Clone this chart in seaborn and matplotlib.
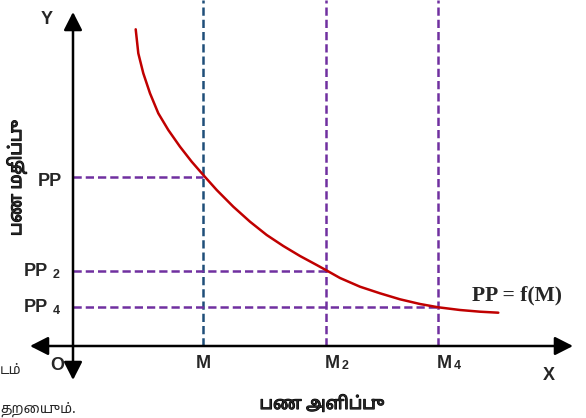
import matplotlib
matplotlib.use('Agg')
import matplotlib.pyplot as plt
import matplotlib.patheffects as pe
import seaborn as sns
import pandas as pd

# curve points (origin O at the axes crossing)
money_supply = [62.7, 65.3, 70.3, 77, 85.3, 95.3, 107, 118.7, 130.3, 143.7, 160.3, 177, 193.7,
                210.3, 227, 243.7, 253.7, 267, 287, 307, 327, 347, 365.3, 387, 407, 425.3]
money_value = [316.7, 292.7, 272.7, 252.7, 232.7, 216, 199.3, 184.3, 171, 156, 139.3, 124.3, 111,
               100, 90, 81, 75.5, 68, 59.3, 52.7, 46.7, 42, 38.7, 36, 34.3, 33.3]

# guide levels
m_levels = [130, 253, 365]
m_labels = ['M', 'M', 'M']
m_subs = ['', '2', '4']
pp_levels = [169, 75, 39]
pp_subs = ['', '2', '4']

curve = pd.DataFrame({'M': money_supply, 'PP': money_value})

sns.set_style('white')
plt.rcParams['font.family'] = ['Noto Sans Tamil', 'Lohit Tamil', 'Liberation Sans', 'DejaVu Sans']
plt.rcParams['axes.unicode_minus'] = False

fig = plt.figure(figsize=(5.86, 4.18), dpi=100)
ax = fig.add_axes([0, 0, 1, 1])

purple = '#7030A0'
dash = (0, (3.3, 1.6))

# vertical guides
ax.vlines(m_levels[0], 0, 346, color='#1F4E79', lw=1.8, linestyle=dash)
ax.vlines(m_levels[1:], 0, 346, color=purple, lw=1.8, linestyle=dash)
# horizontal guides
for m, p in zip(m_levels, pp_levels):
    ax.hlines(p, 0, m, color=purple, lw=1.8, linestyle=dash)

# PP = f(M) curve
sns.lineplot(data=curve, x='M', y='PP', ax=ax, color='#C00000', lw=1.8, sort=False)
ax.axis('off')
ax.set_xlim(-73, 513)
ax.set_ylim(-72, 346)

# axes with arrows
arrow = dict(arrowstyle='<|-|>,head_length=0.55,head_width=0.28', lw=1.8,
             color='black', shrinkA=0, shrinkB=0, mutation_scale=20)
ax.annotate('', xy=(0, 334), xytext=(0, -34), arrowprops=arrow)
ax.annotate('', xy=(500, 0), xytext=(-43, 0), arrowprops=arrow)

fam = ['Liberation Sans', 'DejaVu Sans']
lab = dict(fontsize=13, fontweight='bold', family=fam)
sub = dict(fontsize=9, fontweight='bold', family=fam)
ax.text(-26, 326, 'Y', ha='center', va='center', **lab)
ax.text(476, -29, 'X', ha='center', va='center', **lab)
ax.text(-16, -19, 'O', ha='center', va='center', **lab)

for m, name, s in zip(m_levels, m_labels, m_subs):
    if s:
        ax.text(m - 1, -18, name, ha='left', va='center', **lab)
        ax.text(m + 16, -20, s, ha='left', va='center', **sub)
    else:
        ax.text(m, -18, name, ha='center', va='center', **lab)

ax.text(-23, 165, 'PP', ha='center', va='center', **lab)
for p, s in zip(pp_levels[1:], pp_subs[1:]):
    ax.text(-37, p, 'PP', ha='center', va='center', **lab)
    ax.text(-17, p - 4, s, ha='center', va='center', **sub)

ax.text(444, 51, 'PP = f(M)', ha='center', va='center', fontsize=15.5, fontweight='bold',
        family=['Liberation Serif', 'DejaVu Serif'])

# axis titles (Tamil), stroked a little to look bold
bold = [pe.withStroke(linewidth=0.8, foreground='black')]
ax.text(-56, 168, 'பண மதிப்பு', rotation=90, ha='center', va='center', fontsize=12.5,
        fontweight='bold', path_effects=bold)
ax.text(249, -58, 'பண அளிப்பு', ha='center', va='center', fontsize=12.5,
        fontweight='bold', path_effects=bold)

# fragments of surrounding text at the left edge
ax.text(-73, -24, 'டம்', ha='left', va='center', fontsize=10)
ax.text(-73, -63, 'தறையும்.', ha='left', va='center', fontsize=10)

fig.savefig('out.png', dpi=100)
